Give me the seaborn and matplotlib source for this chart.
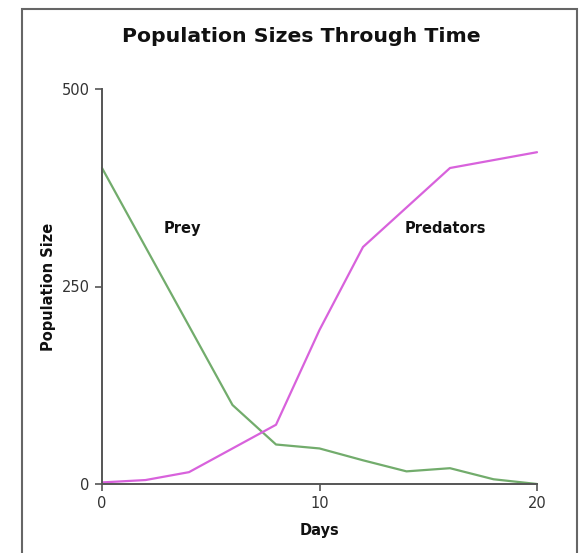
import matplotlib.pyplot as plt
import numpy as np
import pandas as pd
import seaborn as sns
from matplotlib.patches import Rectangle

days = [0, 2, 4, 6, 8, 10, 12, 14, 16, 18, 20]
prey = [400, 300, 200, 100, 50, 45, 30, 16, 20, 6, 0]
predators = [2, 5, 15, 45, 75, 195, 300, 350, 400, 410, 420]
y_ticks = [0, 250, 500]
x_ticks = [0, 10, 20]

df = pd.DataFrame({"Days": days * 2,
                   "Population Size": prey + predators,
                   "Species": ["Prey"] * len(days) + ["Predators"] * len(days)})

sns.set_style("ticks")
plt.rcParams['font.family'] = ['DejaVu Sans']

fig = plt.figure(figsize=(5.82, 5.53), dpi=100, facecolor="white")
ax = fig.add_axes([102 / 582, 1 - 484 / 553, 435 / 582, 395 / 553])
ax.set_facecolor("none")

sns.lineplot(data=df, x="Days", y="Population Size", hue="Species",
             palette={"Prey": "#72ac6c", "Predators": "#d862dc"},
             linewidth=1.6, legend=False, ax=ax, clip_on=False)

ax.set_xlim(0, 20)
ax.set_ylim(0, 500)
ax.set_xticks(x_ticks)
ax.set_yticks(y_ticks)
ax.tick_params(axis="both", labelsize=10.5, labelcolor="#333333", color="#555555",
               length=5, width=1.2, pad=4)
for s in ["left", "bottom"]:
    ax.spines[s].set_color("#555555")
    ax.spines[s].set_linewidth(1.4)
sns.despine(ax=ax)

ax.set_xlabel("Days", fontsize=10.5, fontweight="bold", labelpad=8, color="#111111")
ax.set_ylabel("Population Size", fontsize=10.5, fontweight="bold", labelpad=4, color="#111111")

ax.text(3.7, 324, "Prey", fontsize=10.5, fontweight="bold", ha="center", va="center", color="#111111")
ax.text(15.8, 324, "Predators", fontsize=10.5, fontweight="bold", ha="center", va="center", color="#111111")

fig.text(301 / 582, 1 - 37 / 553, "Population Sizes Through Time", fontsize=14.7,
         fontweight="bold", ha="center", va="center", color="#111111")

fig.patches.append(Rectangle((22 / 582, -0.1), 555 / 582, 1.1 - 9 / 553,
                             transform=fig.transFigure, fill=False,
                             edgecolor="#666666", linewidth=1.5))

fig.savefig("out.png", dpi=100, facecolor="white")
